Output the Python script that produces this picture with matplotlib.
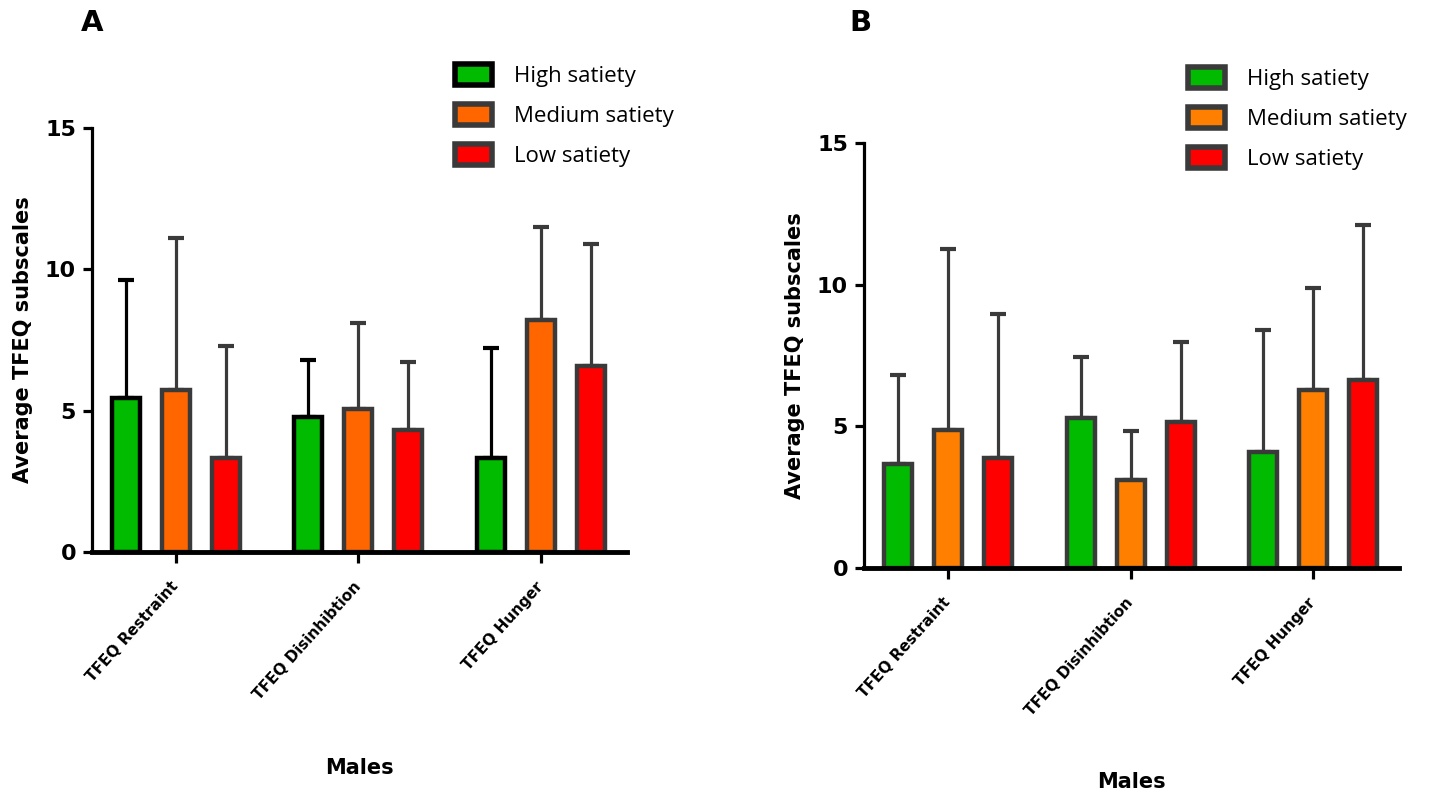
import matplotlib
matplotlib.use("Agg")
import matplotlib.pyplot as plt
from matplotlib.patches import Patch
import numpy as np

plt.rcParams['font.family'] = ['DejaVu Sans']

# data
categories = ["TFEQ Restraint", "TFEQ Disinhibtion", "TFEQ Hunger"]
groups = ["High satiety", "Medium satiety", "Low satiety"]

# panel A
a_high_mean = [5.46, 4.77, 3.32]
a_high_sd = [4.16, 2.03, 3.89]
a_med_mean = [5.73, 5.06, 8.21]
a_med_sd = [5.37, 3.03, 3.29]
a_low_mean = [3.32, 4.32, 6.59]
a_low_sd = [3.97, 2.39, 4.29]

# panel B
b_high_mean = [3.69, 5.30, 4.10]
b_high_sd = [3.12, 2.14, 4.30]
b_med_mean = [4.89, 3.10, 6.28]
b_med_sd = [6.36, 1.73, 3.60]
b_low_mean = [3.89, 5.14, 6.64]
b_low_sd = [5.08, 2.85, 5.47]

GREEN = "#00bb00"
RED = "#ff0000"
GREY = "#3a3a3a"


def draw_panel(ax, means, sds, colors, edges, legend_pos, label_y):
    x = np.arange(len(categories))
    offs = [-0.274, 0.0, 0.274]
    for i in range(3):
        err = [np.zeros(len(sds[i])), sds[i]]
        ax.errorbar(x + offs[i], means[i], yerr=err, fmt='none',
                    ecolor=edges[i], elinewidth=2.3, capsize=5.5,
                    capthick=3, zorder=1)
        ax.bar(x + offs[i], means[i], width=0.153, color=colors[i],
               edgecolor=edges[i], linewidth=3.2, zorder=2)

    ax.set_xlim(-0.46, 2.47)
    ax.set_ylim(0, 15)
    ax.set_yticks([0, 5, 10, 15])
    ax.set_xticks(x)
    ax.set_xticklabels(categories, rotation=48, ha='right', va='center',
                       rotation_mode='anchor', fontsize=11, fontweight='bold')
    for lab in ax.get_yticklabels():
        lab.set_fontsize(16)
        lab.set_fontweight('bold')
    ax.spines['top'].set_visible(False)
    ax.spines['right'].set_visible(False)
    ax.spines['left'].set_linewidth(2.3)
    ax.spines['bottom'].set_linewidth(3.5)
    ax.tick_params(axis='y', length=6.5, width=2.3, pad=5)
    ax.tick_params(axis='x', length=8, width=2.3, pad=15)

    ax.set_ylabel("Average TFEQ subscales", fontsize=15, fontweight='bold')
    ax.yaxis.set_label_coords(-0.11, 0.5)
    ax.set_xlabel("Males", fontsize=15, fontweight='bold', va='top')
    ax.xaxis.set_label_coords(0.5, label_y)

    handles = [Patch(facecolor=colors[i], edgecolor=edges[i], linewidth=4)
               for i in range(3)]
    ax.legend(handles, groups, loc='upper left', bbox_to_anchor=legend_pos,
              bbox_transform=ax.figure.transFigure, frameon=False,
              handlelength=1.65, handleheight=1.1, handletextpad=1.0,
              labelspacing=0.75, borderpad=0, borderaxespad=0,
              prop={'family': ['Open Sans', 'DejaVu Sans'], 'size': 16})


fig = plt.figure(figsize=(14.47, 8), dpi=100)
ax_a = fig.add_axes([92 / 1447, 1 - 552 / 800, 534.5 / 1447, 424.3 / 800])
ax_b = fig.add_axes([864 / 1447, 1 - 568 / 800, 535 / 1447, 424.7 / 800])

draw_panel(ax_a,
           [a_high_mean, a_med_mean, a_low_mean],
           [a_high_sd, a_med_sd, a_low_sd],
           [GREEN, "#ff6600", RED],
           ["black", GREY, GREY],
           (455 / 1447, 1 - 64 / 800), -0.485)

draw_panel(ax_b,
           [b_high_mean, b_med_mean, b_low_mean],
           [b_high_sd, b_med_sd, b_low_sd],
           [GREEN, "#ff8000", RED],
           [GREY, GREY, GREY],
           (1188 / 1447, 1 - 67 / 800), -0.48)

# panel letters
fig.text(92 / 1447, 1 - 23 / 800, "A", fontsize=21, fontweight='bold',
         ha='center', va='center')
fig.text(860 / 1447, 1 - 23 / 800, "B", fontsize=21, fontweight='bold',
         ha='center', va='center')

fig.savefig("out.png", dpi=100)
